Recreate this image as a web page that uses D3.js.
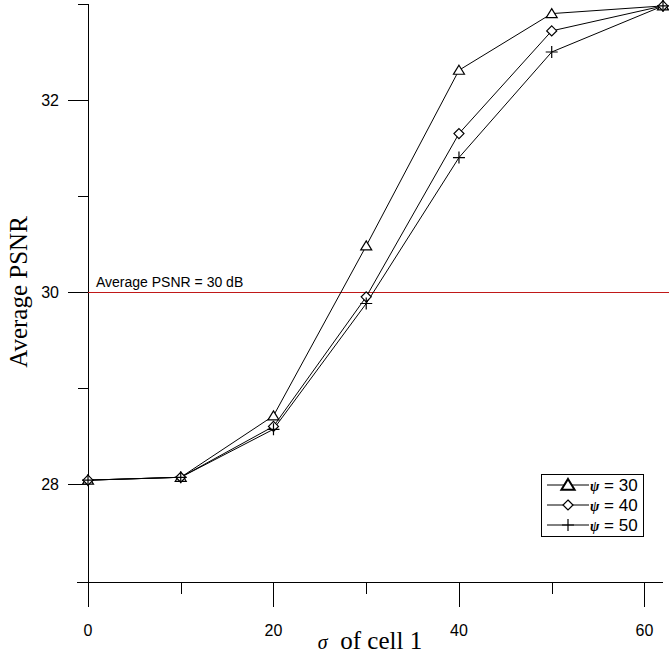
<!DOCTYPE html>
<html>
<head>
<meta charset="utf-8">
<script src="https://cdn.jsdelivr.net/npm/d3@7"></script>
<style>
  body { margin: 0; background: #fff; }
  svg { display: block; }
</style>
</head>
<body>
<script>
const width = 669;
const height = 657;

// data
const sigma = [0, 10, 20, 30, 40, 50, 62];
const psi30 = [28.04, 28.07, 28.71, 30.48, 32.31, 32.90, 32.98];
const psi40 = [28.04, 28.07, 28.60, 29.95, 31.65, 32.72, 32.98];
const psi50 = [28.04, 28.07, 28.57, 29.88, 31.40, 32.50, 32.98];
const xMajor = [0, 20, 40, 60];
const xMinor = [10, 30, 50];
const yMajor = [28, 30, 32];
const yMinor = [27, 29, 31, 33];
const threshold = 30;

const series = [
  { name: '30', values: psi30, marker: 'triangle' },
  { name: '40', values: psi40, marker: 'diamond' },
  { name: '50', values: psi50, marker: 'plus' }
];

const x = d3.scaleLinear().domain([0, 62]).range([88, 663]);
const y = d3.scaleLinear().domain([27, 33]).range([580, 4]);

const svg = d3.select('body').append('svg')
  .attr('width', width)
  .attr('height', height);

// axes (drawn by hand to get the major/minor tick look)
const axes = svg.append('g')
  .attr('stroke', '#000')
  .attr('stroke-width', 1)
  .attr('shape-rendering', 'crispEdges');

axes.append('line')
  .attr('x1', x(0) + 0.5).attr('x2', x(0) + 0.5)
  .attr('y1', y(33)).attr('y2', y(27) + 2);
axes.append('line')
  .attr('x1', x(0) - 11).attr('x2', x(62))
  .attr('y1', y(27) + 2.5).attr('y2', y(27) + 2.5);

axes.selectAll('.ymaj')
  .data(yMajor)
  .enter().append('line')
    .attr('x1', x(0) - 20).attr('x2', x(0))
    .attr('y1', d => Math.round(y(d)) + 0.5)
    .attr('y2', d => Math.round(y(d)) + 0.5);
axes.selectAll('.ymin')
  .data(yMinor.slice(1))
  .enter().append('line')
    .attr('x1', x(0) - 10).attr('x2', x(0))
    .attr('y1', d => Math.round(y(d)) + 0.5)
    .attr('y2', d => Math.round(y(d)) + 0.5);
axes.selectAll('.xmaj')
  .data(xMajor)
  .enter().append('line')
    .attr('x1', d => Math.round(x(d)) + 0.5)
    .attr('x2', d => Math.round(x(d)) + 0.5)
    .attr('y1', y(27) + 2).attr('y2', y(27) + 27);
axes.selectAll('.xmin')
  .data(xMinor)
  .enter().append('line')
    .attr('x1', d => Math.round(x(d)) + 0.5)
    .attr('x2', d => Math.round(x(d)) + 0.5)
    .attr('y1', y(27) + 2).attr('y2', y(27) + 14);

svg.append('g')
  .selectAll('text')
  .data(yMajor)
  .enter().append('text')
    .attr('x', x(0) - 29)
    .attr('y', d => y(d) + 6)
    .attr('text-anchor', 'end')
    .style('font', '16px Arial, "Liberation Sans", sans-serif')
    .text(d => d);

svg.append('g')
  .selectAll('text')
  .data(xMajor)
  .enter().append('text')
    .attr('x', d => x(d))
    .attr('y', y(27) + 56)
    .attr('text-anchor', 'middle')
    .style('font', '16px Arial, "Liberation Sans", sans-serif')
    .text(d => d);

// axis titles
svg.append('text')
  .attr('transform', 'translate(27,292) rotate(-90)')
  .attr('text-anchor', 'middle')
  .style('font', '25px "Times New Roman", "Liberation Serif", serif')
  .text('Average PSNR');

const xt = svg.append('text')
  .attr('x', 370)
  .attr('y', 649)
  .attr('text-anchor', 'middle')
  .style('font', '25px "Times New Roman", "Liberation Serif", serif');
xt.append('tspan').style('font-style', 'italic').style('font-size', '20px').text('σ');
xt.append('tspan').text('\u00a0 of cell 1');

// 30 dB reference line
svg.append('line')
  .attr('x1', x(0)).attr('x2', width)
  .attr('y1', Math.round(y(threshold)) + 0.5)
  .attr('y2', Math.round(y(threshold)) + 0.5)
  .attr('stroke', '#c01818')
  .attr('stroke-width', 1)
  .attr('shape-rendering', 'crispEdges');
svg.append('text')
  .attr('x', x(0) + 8)
  .attr('y', y(threshold) - 5)
  .style('font', '14px Arial, "Liberation Sans", sans-serif')
  .text('Average PSNR = 30 dB');

// markers
function drawMarker(g, type, cx, cy, big) {
  const s = big ? 1.2 : 1;
  if (type === 'triangle') {
    g.append('path')
      .attr('d', `M${cx},${cy - 5 * s}L${cx + 5.5 * s},${cy + 4 * s}L${cx - 5.5 * s},${cy + 4 * s}Z`)
      .attr('fill', '#fff').attr('stroke', '#000').attr('stroke-width', big ? 2 : 1.2);
  } else if (type === 'diamond') {
    g.append('path')
      .attr('d', `M${cx},${cy - 5}L${cx + 5},${cy}L${cx},${cy + 5}L${cx - 5},${cy}Z`)
      .attr('fill', '#fff').attr('stroke', '#000').attr('stroke-width', 1.2);
  } else {
    g.append('path')
      .attr('d', `M${cx - 6},${cy}H${cx + 6}M${cx},${cy - 6}V${cy + 6}`)
      .attr('stroke', '#000').attr('stroke-width', 1.2);
  }
}

const line = d3.line()
  .x(d => x(d[0]))
  .y(d => y(d[1]));

series.forEach(s => {
  const pts = sigma.map((v, i) => [v, s.values[i]]);
  svg.append('path')
    .datum(pts)
    .attr('d', line)
    .attr('fill', 'none')
    .attr('stroke', '#000')
    .attr('stroke-width', 1);
});
series.forEach(s => {
  const g = svg.append('g');
  sigma.forEach((v, i) => drawMarker(g, s.marker, x(v), y(s.values[i]), false));
});

// legend
const legend = svg.append('g');
legend.append('rect')
  .attr('x', 541.5).attr('y', 474.5)
  .attr('width', 102).attr('height', 62)
  .attr('fill', '#fff').attr('stroke', '#000');
series.forEach((s, i) => {
  const ly = 485 + i * 20;
  legend.append('line')
    .attr('x1', 547).attr('x2', 589)
    .attr('y1', ly).attr('y2', ly)
    .attr('stroke', '#000');
  drawMarker(legend, s.marker, 568, ly, i === 0);
  const t = legend.append('text')
    .attr('x', 590)
    .attr('y', ly + 6)
    .style('font', '17px Arial, "Liberation Sans", sans-serif');
  t.append('tspan')
    .style('font', 'italic bold 14px "Times New Roman", "Liberation Serif", serif')
    .text('ψ');
  t.append('tspan').text(' = ' + s.name);
});
</script>
</body>
</html>
